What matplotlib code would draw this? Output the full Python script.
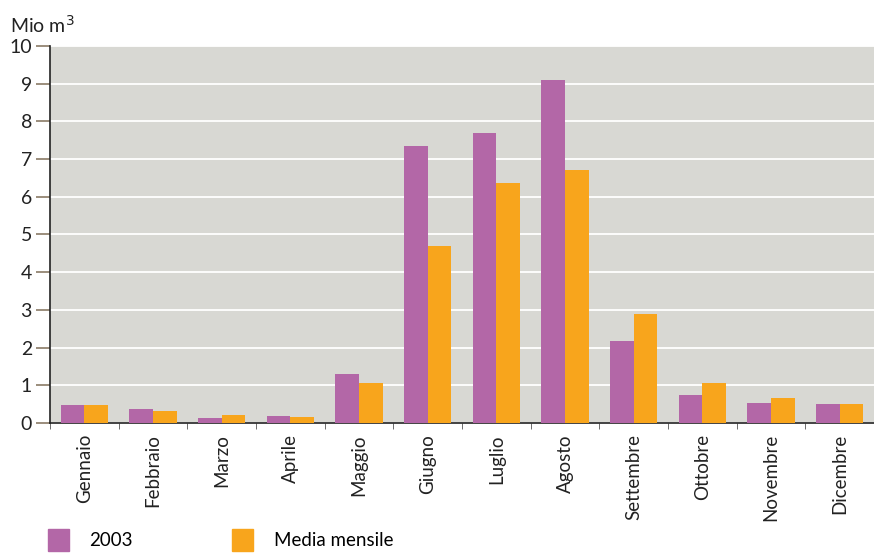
import numpy as np
import matplotlib
matplotlib.use("Agg")
import matplotlib.pyplot as plt
from matplotlib.patches import Patch

plt.rcParams["font.family"] = ["Lato", "DejaVu Sans"]

# dati (Mio m3)
mesi = ["Gennaio", "Febbraio", "Marzo", "Aprile", "Maggio", "Giugno",
        "Luglio", "Agosto", "Settembre", "Ottobre", "Novembre", "Dicembre"]
anno_2003 = [0.48, 0.37, 0.12, 0.19, 1.30, 7.35, 7.69, 9.10, 2.17, 0.75, 0.53, 0.50]
media_mensile = [0.48, 0.33, 0.22, 0.15, 1.06, 4.70, 6.37, 6.71, 2.89, 1.06, 0.67, 0.50]

viola = "#b367a7"
arancio = "#f8a51c"

fig = plt.figure(figsize=(8.74, 5.54), dpi=100)
ax = fig.add_axes([0.0572, 0.2365, 0.9428, 0.6805])
ax.set_facecolor("#d8d8d3")

x = np.arange(len(mesi))
w = 0.345
ax.bar(x - w / 2, anno_2003, w, color=viola, zorder=3)
ax.bar(x + w / 2, media_mensile, w, color=arancio, zorder=3)

ax.set_xlim(-0.5, len(mesi) - 0.5)
ax.set_ylim(0, 10)
ax.set_yticks(range(0, 11))
ax.yaxis.grid(True, color="white", linewidth=1.3, zorder=0)
ax.set_axisbelow(True)

# tick dei mesi senza trattini, trattini ai confini
ax.set_xticks(x)
ax.set_xticklabels(mesi, rotation=90, fontsize=13.5, color="#222222")
ax.tick_params(axis="x", length=0, pad=8)
ax.set_xticks(np.arange(-0.5, len(mesi) + 0.5, 1), minor=True)
ax.tick_params(axis="x", which="minor", length=4, color="#555555")
ax.tick_params(axis="y", length=10, width=1.2, color="#8a7a66", labelsize=14,
               labelcolor="#222222", pad=3)

for s in ["top", "right"]:
    ax.spines[s].set_visible(False)
ax.spines["left"].set_color("#222222")
ax.spines["bottom"].set_color("#222222")
ax.spines["left"].set_linewidth(1.2)
ax.spines["bottom"].set_linewidth(1.2)

fig.text(0.011, 0.955, "Mio m$^3$", fontsize=14, color="#222222", va="center")

handles = [Patch(color=viola, label="2003"), Patch(color=arancio, label="Media mensile")]
fig.legend(handles=handles, loc="lower left", bbox_to_anchor=(0.036, -0.025), ncol=2,
           frameon=False, fontsize=13.5, handlelength=1.1, handleheight=1.4,
           handletextpad=1.1, columnspacing=5.3)

fig.savefig("out.png", dpi=100)
